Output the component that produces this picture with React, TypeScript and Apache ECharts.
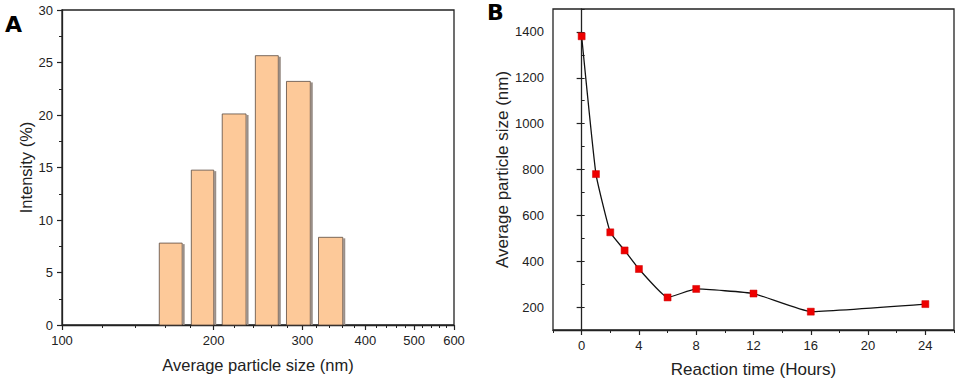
import React, { useEffect, useRef } from "react";
import * as echarts from "echarts";

// Panel A: particle size distribution (log x axis)
const binStart = [156, 180.6, 208, 242, 279, 323];
const binEnd = [174, 201, 233, 270, 312.5, 362.5];
const intensity = [7.8, 14.75, 20.1, 25.65, 23.2, 8.35];
const sizeMajorTicks = [100, 200, 300, 400, 500, 600];
const sizeMinorTicks = [
  120, 140, 160, 180, 220, 240, 260, 280, 320, 340, 360, 380, 420, 440, 460, 480, 520, 540, 560, 580,
];

// Panel B: average particle size vs reaction time
const reactionTime = [0, 1, 2, 3, 4, 6, 8, 12, 16, 24];
const avgSize = [1381, 780, 526, 447, 366, 242, 279, 259, 180, 213];
const timeLabels = [0, 4, 8, 12, 16, 20, 24];
const sizeLabels = [200, 400, 600, 800, 1000, 1200, 1400];

const FONT = "Liberation Sans";
const AXIS = "#222";

export default function App() {
  const ref = useRef<HTMLDivElement>(null);
  useEffect(() => {
    if (!ref.current) return;
    const chart = echarts.init(ref.current, undefined, { renderer: "svg" });
    const lbl = { fontFamily: FONT, fontSize: 13, color: "#222" };
    const nameA = { fontFamily: FONT, fontSize: 16.5, color: "#222" };
    const nameB = { fontFamily: FONT, fontSize: 17, color: "#222" };
    const axisLine = { show: true, lineStyle: { color: AXIS, width: 1.3 } };

    chart.setOption({
      animation: false,
      grid: [
        { left: 62, right: 506, top: 10, bottom: 60, show: true, borderColor: AXIS, borderWidth: 1.3, backgroundColor: "transparent" },
        { left: 553, right: 6, top: 9, bottom: 55, show: true, borderColor: AXIS, borderWidth: 1.3, backgroundColor: "transparent" },
      ],
      xAxis: [
        {
          gridIndex: 0, type: "log", logBase: 10, min: 100, max: 600,
          name: "Average particle size (nm)", nameLocation: "middle", nameGap: 31, nameTextStyle: nameA,
          axisLine,
          axisTick: { show: true, customValues: sizeMajorTicks, length: 5, lineStyle: { color: AXIS, width: 1.2 } },
          axisLabel: { ...lbl, margin: 9, customValues: sizeMajorTicks, formatter: (v: number) => String(Math.round(v)) },
          splitLine: { show: false },
        },
        {
          gridIndex: 0, type: "log", logBase: 10, min: 100, max: 600, position: "bottom",
          axisLine: { show: false },
          axisTick: { show: true, customValues: sizeMinorTicks, length: 3, lineStyle: { color: AXIS, width: 1 } },
          axisLabel: { show: false },
          splitLine: { show: false },
        },
        {
          gridIndex: 1, type: "value", min: -2, max: 26,
          name: "Reaction time (Hours)", nameLocation: "middle", nameGap: 31, nameTextStyle: nameB,
          axisLine,
          axisTick: { show: true, customValues: timeLabels, length: 5, lineStyle: { color: AXIS, width: 1.2 } },
          axisLabel: { ...lbl, margin: 9, customValues: timeLabels, formatter: (v: number) => String(v) },
          splitLine: { show: false },
        },
        {
          gridIndex: 1, type: "value", min: -2, max: 26, interval: 2, position: "bottom",
          axisLine: { show: false },
          axisTick: { show: true, length: 3, lineStyle: { color: AXIS, width: 1 } },
          axisLabel: { show: false },
          splitLine: { show: false },
        },
      ],
      yAxis: [
        {
          gridIndex: 0, type: "value", min: 0, max: 30, interval: 5,
          name: "Intensity (%)", nameLocation: "middle", nameGap: 28, nameTextStyle: nameA,
          axisLine,
          axisTick: { show: true, length: 5, lineStyle: { color: AXIS, width: 1.2 } },
          minorTick: { show: true, splitNumber: 2, length: 3, lineStyle: { color: AXIS, width: 1 } },
          axisLabel: { ...lbl, margin: 9 },
          splitLine: { show: false },
        },
        {
          gridIndex: 1, type: "value", min: 100, max: 1500,
          name: "Average particle size (nm)", nameLocation: "middle", nameGap: 40, nameTextStyle: nameB,
          axisLine,
          axisTick: { show: true, customValues: sizeLabels, length: 5, lineStyle: { color: AXIS, width: 1.2 } },
          axisLabel: { ...lbl, margin: 9, customValues: sizeLabels, formatter: (v: number) => String(v) },
          splitLine: { show: false },
        },
        {
          gridIndex: 1, type: "value", min: 100, max: 1500, interval: 100,
          axisLine: { show: false },
          axisTick: { show: true, length: 3, lineStyle: { color: AXIS, width: 1 } },
          axisLabel: { show: false },
          splitLine: { show: false },
        },
      ],
      series: [
        {
          type: "custom",
          xAxisIndex: 0,
          yAxisIndex: 0,
          data: binStart.map((s, i) => [s, binEnd[i], intensity[i]]),
          renderItem: (params: any, api: any) => {
            const p0 = api.coord([api.value(0), api.value(2)]);
            const p1 = api.coord([api.value(1), 0]);
            return {
              type: "group",
              children: [
                {
                  type: "rect",
                  shape: { x: p1[0] - 0.5, y: p0[1] + 1, width: 2, height: p1[1] - p0[1] - 1 },
                  style: { fill: "#9a8f88" },
                },
                {
                  type: "rect",
                  shape: { x: p0[0], y: p0[1], width: p1[0] - p0[0] - 1, height: p1[1] - p0[1] },
                  style: { fill: "#FDC999", stroke: "#5a4a40", lineWidth: 0.8 },
                },
              ],
            };
          },
        },
        {
          type: "line",
          xAxisIndex: 2,
          yAxisIndex: 1,
          data: reactionTime.map((t, i) => [t, avgSize[i]]),
          smooth: 0.12,
          symbol: "rect",
          symbolSize: 7,
          itemStyle: { color: "#ee0000", borderColor: "#cc0000", borderWidth: 0.5 },
          lineStyle: { color: "#111", width: 1.3 },
          z: 3,
        },
      ],
      graphic: [
        { type: "text", left: 5, top: 13, style: { text: "A", font: "bold 22px 'DejaVu Sans'", fill: "#000" } },
        { type: "text", left: 487, top: 1, style: { text: "B", font: "bold 22px 'DejaVu Sans'", fill: "#000" } },
      ],
    });
    return () => chart.dispose();
  }, []);
  return (
    <div
      ref={ref}
      style={{ position: "fixed", left: 0, top: 0, width: 960, height: 385, background: "#fff" }}
    />
  );
}
